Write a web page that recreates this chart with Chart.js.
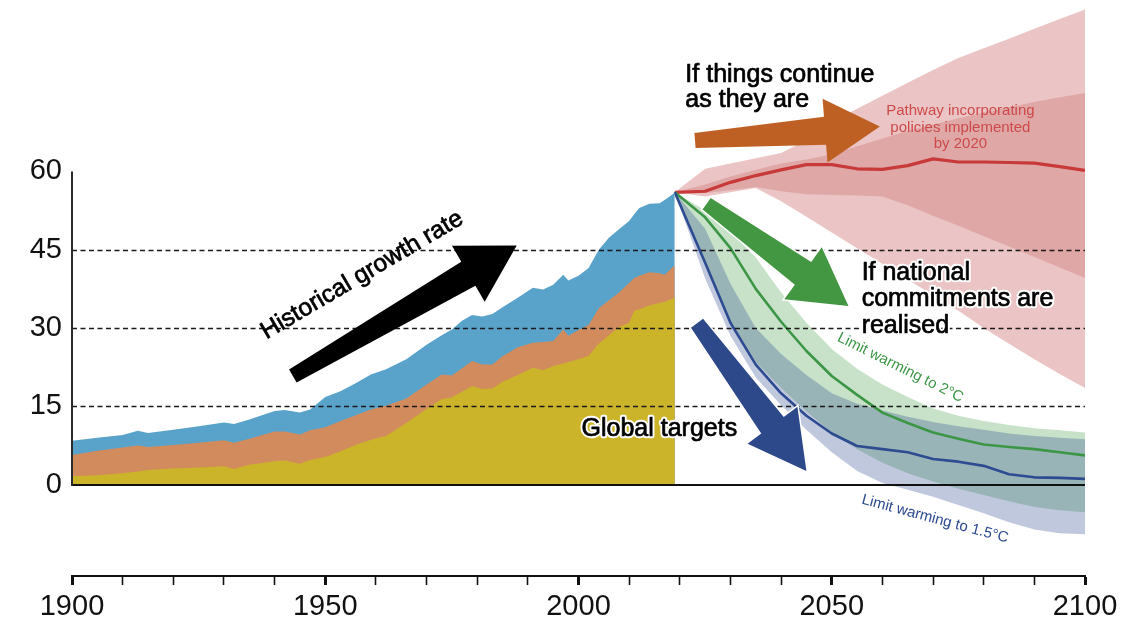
<!DOCTYPE html>
<html>
<head>
<meta charset="utf-8">
<script src="https://cdn.jsdelivr.net/npm/chart.js@4.4.1/dist/chart.umd.min.js"></script>
<style>
  html, body { margin: 0; padding: 0; background: #ffffff; }
  canvas { display: block; }
</style>
</head>
<body>
<canvas id="chart" width="1147" height="618"></canvas>
<script>
// ---- Historical emissions: cumulative top of each stacked layer ----
const histYears = [1900, 1905, 1910, 1913, 1915, 1920, 1925, 1930, 1932, 1935, 1940, 1942, 1945, 1947,
  1950, 1953, 1956, 1959, 1962, 1966, 1970, 1973, 1975, 1977, 1979, 1981, 1983, 1985, 1988, 1991,
  1993, 1995, 1997, 1998, 2000, 2002, 2004, 2006, 2008, 2010, 2011, 2012, 2014, 2016, 2017, 2019];
const histYellowTop = [1.6, 1.8, 2.2, 2.5, 2.8, 3.1, 3.3, 3.5, 3.0, 3.8, 4.5, 4.6, 4.0, 4.7,
  5.3, 6.4, 7.6, 8.6, 9.3, 11.8, 14.5, 16.4, 16.7, 17.8, 18.9, 18.3, 18.4, 19.7, 21.0, 22.4,
  21.9, 22.7, 23.2, 23.5, 24.0, 24.7, 27.0, 28.6, 30.2, 31.0, 33.3, 33.6, 34.3, 34.8, 35.0, 35.8];
const histOrangeTop = [5.7, 6.5, 7.1, 7.5, 7.2, 7.6, 8.0, 8.5, 8.0, 8.8, 10.2, 10.2, 9.6, 10.4,
  11.0, 12.2, 13.3, 14.4, 15.1, 16.5, 19.2, 21.1, 20.9, 22.3, 23.7, 23.0, 23.0, 24.6, 26.3, 27.2,
  27.3, 27.5, 29.7, 28.5, 29.6, 30.6, 33.8, 35.3, 36.8, 38.6, 39.6, 40.0, 40.7, 40.5, 40.2, 42.0];
const histBlueTop = [8.4, 9.0, 9.5, 10.3, 9.9, 10.5, 11.2, 11.9, 11.6, 12.5, 14.1, 14.3, 13.8, 14.4,
  16.8, 17.9, 19.4, 21.1, 22.1, 24.0, 26.8, 28.6, 29.7, 31.4, 32.5, 32.2, 32.7, 34.0, 35.8, 37.7,
  37.4, 38.3, 40.2, 39.1, 40.0, 41.5, 45.0, 47.3, 48.9, 50.5, 51.8, 53.0, 53.8, 53.9, 54.5, 55.9];

// ---- Projections ----
const projYears = [2019, 2025, 2030, 2035, 2040, 2045, 2050, 2055, 2060, 2065, 2070, 2075, 2080, 2085, 2090, 2095, 2100];
const policyLine      = [56, 56.2, 57.9, 59.2, 60.3, 61.3, 61.3, 60.5, 60.4, 61.1, 62.4, 61.8, 61.8, 61.7, 61.6, 60.9, 60.2];
const policyOuterHigh = [56, 60.5, 61.5, 62.5, 63.5, 66.0, 69.5, 72.0, 74.5, 77.0, 79.4, 81.7, 83.6, 85.4, 87.3, 89.2, 91.0];
const policyOuterLow  = [56, 55.2, 56.0, 56.8, 54.3, 51.3, 48.3, 45.3, 42.3, 39.3, 36.3, 33.3, 30.0, 27.0, 24.0, 21.2, 18.5];
const policyInnerHigh = [56, 57.5, 59.0, 60.3, 61.5, 62.3, 63.3, 64.8, 66.3, 67.8, 69.0, 70.2, 71.3, 72.3, 73.3, 74.2, 75.0];
const policyInnerLow  = [56, 55.8, 56.4, 57.0, 56.2, 55.6, 55.5, 55.4, 55.2, 53.5, 51.5, 49.6, 47.6, 45.6, 43.6, 41.6, 39.6];
const twoDegLine      = [56, 51.2, 45.3, 37.5, 31.2, 25.6, 20.8, 17.2, 13.8, 11.8, 10.0, 8.8, 7.7, 7.2, 6.8, 6.2, 5.6];
const twoDegHigh      = [56, 52.5, 48.5, 43.5, 36.8, 31.0, 26.0, 22.2, 19.2, 16.8, 14.6, 13.2, 12.2, 11.4, 10.8, 10.4, 10.0];
const twoDegLow       = [56, 42.5, 31.5, 23.5, 18.5, 14.0, 10.0, 6.8, 4.2, 2.2, 0.6, -0.8, -2.0, -3.2, -4.3, -4.9, -5.3];
const onePtFiveLine   = [56, 42.5, 31.0, 23.0, 17.5, 13.2, 9.8, 7.4, 6.8, 6.2, 4.9, 4.4, 3.6, 2.0, 1.4, 1.3, 1.1];
const onePtFiveHigh   = [56, 49.0, 38.5, 30.0, 25.0, 21.0, 17.5, 15.5, 14.2, 13.0, 12.0, 11.2, 10.5, 9.8, 9.3, 9.0, 8.7];
const onePtFiveLow    = [56, 39.5, 28.5, 20.5, 15.2, 10.5, 6.2, 2.6, 0.3, -1.0, -2.3, -3.9, -5.5, -7.2, -8.6, -9.3, -9.5];

// ---- Axes ----
const yTickValues = [0, 15, 30, 45, 60];
const dashedLevels = [15, 30, 45];
const yMin = -17.5, yMax = 92.83;

const FONT = '"Liberation Sans", Arial, Helvetica, sans-serif';

// ---- Arrows (data coordinates: [year, value]) ----
const arrows = [
  { tail: [1943.6, 20.8], tip: [1987.8, 45.8], tailW: 15, neckW: 28, headW: 65, headL: 56, color: '#000000', outline: false },
  { tail: [2023.0, 65.9], tip: [2059.5, 68.6], tailW: 15, neckW: 28, headW: 64, headL: 55, color: '#BE6023', outline: false },
  { tail: [2025.3, 53.8], tip: [2053.3, 34.2], tailW: 14, neckW: 28, headW: 64, headL: 56, color: '#439642', outline: true },
  { tail: [2023.4, 30.9], tip: [2045.0, 2.6],  tailW: 15, neckW: 28, headW: 62, headL: 57, color: '#2E498A', outline: true }
];

// ---- Text notes ----
const notes = [
  { lines: ['Historical growth rate'], at: [1957.95, 39.0], step: 0, angle: -30.5, size: 24.5, color: '#000', align: 'center', halo: false, heavy: true },
  { lines: ['If things continue', 'as they are'], at: [2021.1, 77.06], step: 4.76, angle: 0, size: 25, color: '#000', align: 'left', halo: true, heavy: true },
  { lines: ['Pathway incorporating', 'policies implemented', 'by 2020'], at: [2075.4, 70.84], step: 3.2, angle: 0, size: 15, color: '#CC4A4A', align: 'center', halo: false, heavy: false },
  { lines: ['If national', 'commitments are', 'realised'], at: [2055.9, 39.29], step: 5.1, angle: 0, size: 25, color: '#000', align: 'left', halo: true, heavy: true },
  { lines: ['Global targets'], at: [2000.6, 9.33], step: 0, angle: 0, size: 25, color: '#000', align: 'left', halo: true, heavy: true },
  { lines: ['Limit warming to 2°C'], at: [2063.55, 22.41], step: 0, angle: 26.5, size: 15, color: '#3C9646', align: 'center', baseline: 'middle', halo: false, heavy: false },
  { lines: ['Limit warming to 1.5°C'], at: [2070.4, -6.6], step: 0, angle: 15, size: 15, color: '#2D4B91', align: 'center', baseline: 'middle', halo: false, heavy: false }
];

function pts(xs, ys) { return xs.map((x, i) => ({ x: x, y: ys[i] })); }

const clear = 'rgba(0,0,0,0)';
function band(data, fillTo, color, order) {
  return { data: data, fill: fillTo === null ? false : fillTo, backgroundColor: color, borderColor: clear, borderWidth: 0, order: order };
}
function line(data, color, width, order) {
  return { data: data, fill: false, borderColor: color, borderWidth: width, borderJoinStyle: 'round', order: order };
}

const datasets = [
  band(pts(projYears, policyOuterHigh), 1, '#EBC5C5', 20),       // 0
  band(pts(projYears, policyOuterLow), null, clear, 20),         // 1
  band(pts(projYears, policyInnerHigh), 3, '#E0A7A7', 19),       // 2
  band(pts(projYears, policyInnerLow), null, clear, 19),         // 3
  line(pts(projYears, policyLine), '#C83939', 3.2, 18),          // 4
  band(pts(projYears, twoDegHigh), 6, 'rgba(63,154,69,0.29)', 17),   // 5
  band(pts(projYears, twoDegLow), null, clear, 17),                   // 6
  band(pts(projYears, onePtFiveHigh), 8, 'rgba(46,74,142,0.30)', 16), // 7
  band(pts(projYears, onePtFiveLow), null, clear, 16),               // 8
  line(pts(projYears, twoDegLine), '#3C9646', 2.6, 15),          // 9
  line(pts(projYears, onePtFiveLine), '#2D4B91', 2.6, 14),       // 10
  band(pts(histYears, histBlueTop), 'origin', '#59A3CA', 13),    // 11
  band(pts(histYears, histOrangeTop), 'origin', '#D18B5D', 12),  // 12
  band(pts(histYears, histYellowTop), 'origin', '#CBB42A', 11)   // 13
];

function px(chart, p) {
  return { x: chart.scales.x.getPixelForValue(p[0]), y: chart.scales.y.getPixelForValue(p[1]) };
}

function arrowPath(ctx, tail, tip, a) {
  const dx = tip.x - tail.x, dy = tip.y - tail.y, len = Math.hypot(dx, dy);
  const ux = dx / len, uy = dy / len, nx = -uy, ny = ux;
  const bx = tip.x - ux * a.headL, by = tip.y - uy * a.headL;
  ctx.beginPath();
  ctx.moveTo(tail.x + nx * a.tailW / 2, tail.y + ny * a.tailW / 2);
  ctx.lineTo(bx + nx * a.neckW / 2, by + ny * a.neckW / 2);
  ctx.lineTo(bx + nx * a.headW / 2, by + ny * a.headW / 2);
  ctx.lineTo(tip.x, tip.y);
  ctx.lineTo(bx - nx * a.headW / 2, by - ny * a.headW / 2);
  ctx.lineTo(bx - nx * a.neckW / 2, by - ny * a.neckW / 2);
  ctx.lineTo(tail.x - nx * a.tailW / 2, tail.y - ny * a.tailW / 2);
  ctx.closePath();
}

const overlay = {
  id: 'overlay',
  afterDatasetsDraw(chart) {
    const ctx = chart.ctx, area = chart.chartArea, y = chart.scales.y, x = chart.scales.x;
    ctx.save();
    // dashed reference levels
    ctx.strokeStyle = '#1a1a1a';
    ctx.lineWidth = 1.4;
    ctx.setLineDash([5, 3.5]);
    dashedLevels.forEach(v => {
      const py = Math.round(y.getPixelForValue(v)) + 0.5;
      ctx.beginPath(); ctx.moveTo(area.left, py); ctx.lineTo(area.right, py); ctx.stroke();
    });
    ctx.setLineDash([]);
    // zero line
    const y0 = Math.round(y.getPixelForValue(0));
    ctx.strokeStyle = '#111';
    ctx.lineWidth = 2;
    ctx.beginPath(); ctx.moveTo(area.left, y0); ctx.lineTo(area.right, y0); ctx.stroke();
    // vertical spine from 0 to 60
    const xl = Math.round(x.getPixelForValue(1900));
    ctx.strokeStyle = '#2b2b2b';
    ctx.beginPath(); ctx.moveTo(xl, y0 + 1); ctx.lineTo(xl, y.getPixelForValue(60)); ctx.stroke();
    // arrows
    arrows.forEach(a => {
      const tail = px(chart, a.tail), tip = px(chart, a.tip);
      arrowPath(ctx, tail, tip, a);
      ctx.lineJoin = 'miter';
      if (a.outline) { ctx.strokeStyle = '#ffffff'; ctx.lineWidth = 3; ctx.stroke(); }
      ctx.fillStyle = a.color; ctx.fill();
    });
    ctx.restore();
  },
  afterDraw(chart) {
    const ctx = chart.ctx, y = chart.scales.y;
    ctx.save();
    notes.forEach(n => {
      const p = px(chart, n.at);
      const stepPx = Math.abs(y.getPixelForValue(0) - y.getPixelForValue(n.step));
      ctx.save();
      ctx.translate(p.x, p.y);
      ctx.rotate(n.angle * Math.PI / 180);
      ctx.font = n.size + 'px ' + FONT;
      ctx.textAlign = n.align;
      ctx.textBaseline = n.baseline || 'alphabetic';
      ctx.lineJoin = 'round';
      n.lines.forEach((t, i) => {
        const ly = i * stepPx;
        if (n.halo) {
          ctx.strokeStyle = '#ffffff';
          ctx.lineWidth = 4.5;
          ctx.strokeText(t, 0, ly);
        }
        ctx.fillStyle = n.color;
        ctx.fillText(t, 0, ly);
        if (n.heavy) {
          ctx.strokeStyle = n.color;
          ctx.lineWidth = 0.7;
          ctx.strokeText(t, 0, ly);
        }
      });
      ctx.restore();
    });
    ctx.restore();
  }
};

new Chart(document.getElementById('chart'), {
  type: 'line',
  data: { datasets: datasets },
  options: {
    responsive: false,
    animation: false,
    devicePixelRatio: 1,
    layout: { padding: { left: 0, right: 62, top: 0, bottom: 0 } },
    elements: { point: { radius: 0 }, line: { tension: 0 } },
    plugins: { legend: { display: false }, tooltip: { enabled: false } },
    scales: {
      x: {
        type: 'linear', min: 1900, max: 2100, position: 'bottom',
        afterFit(s) { s.height = 42; s.paddingLeft = 0; s.paddingRight = 0; },
        ticks: {
          stepSize: 10, autoSkip: false, maxRotation: 0, padding: 5, color: '#111',
          font: { family: FONT, size: 29 },
          callback: v => (v % 50 === 0 ? String(v) : '')
        },
        grid: {
          display: true, drawOnChartArea: false, drawTicks: true, tickLength: 9,
          tickWidth: ctx => (ctx.tick && ctx.tick.value % 50 === 0 ? 3 : 1.6),
          tickColor: '#111'
        },
        border: { display: true, color: '#111', width: 2 }
      },
      y: {
        type: 'linear', min: yMin, max: yMax,
        afterBuildTicks(s) { s.ticks = yTickValues.map(v => ({ value: v })); },
        afterFit(s) { s.width = 72; s.paddingTop = 0; s.paddingBottom = 0; },
        ticks: { padding: 10, color: '#111', font: { family: FONT, size: 29 }, callback: v => String(v) },
        grid: { display: false, drawTicks: false },
        border: { display: false }
      }
    }
  },
  plugins: [overlay]
});
</script>
</body>
</html>
